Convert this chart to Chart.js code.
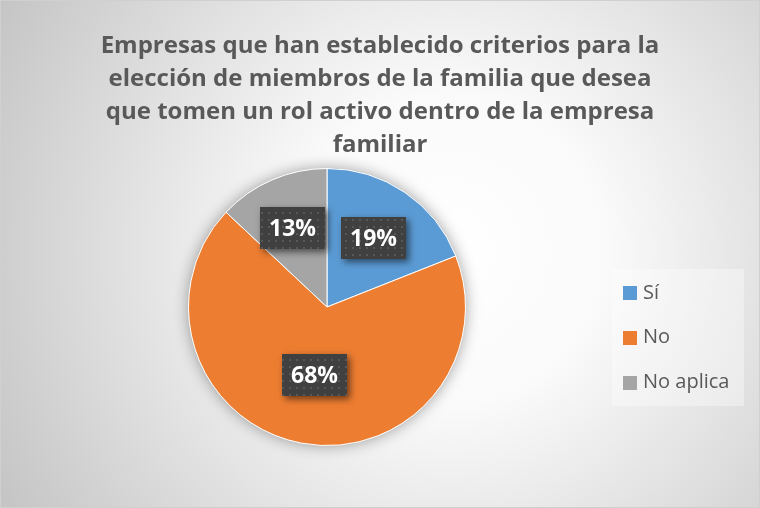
<!DOCTYPE html>
<html lang="es">
<head>
<meta charset="utf-8">
<title>Criterios de elección de familiares</title>
<script src="https://cdn.jsdelivr.net/npm/chart.js@4.4.1/dist/chart.umd.min.js"></script>
<style>
  html, body { margin: 0; padding: 0; background: #ffffff; }
  #contenedor { width: 760px; height: 508px; }
</style>
</head>
<body>
<div id="contenedor"><canvas id="grafico" width="760" height="508"></canvas></div>
<script>
const titulo = [
  "Empresas que han establecido criterios para la",
  "elección de miembros de la familia que desea",
  "que tomen un rol activo dentro de la empresa",
  "familiar"
];
const categorias = ["Sí", "No", "No aplica"];
const porcentajes = [19, 68, 13];
const colores = ["#5B9BD5", "#ED7D31", "#A5A5A5"];

const FUENTE = "'Open Sans'";
Chart.defaults.font.family = FUENTE;

// fondo con degradado radial y borde fino
const fondo = {
  id: "fondo",
  beforeDraw(chart) {
    const { ctx, width, height } = chart;
    const g = ctx.createRadialGradient(450, 250, 0, 450, 250, 520);
    g.addColorStop(0, "#ffffff");
    g.addColorStop(0.3, "#fafafa");
    g.addColorStop(1, "#c4c4c4");
    ctx.save();
    ctx.fillStyle = g;
    ctx.fillRect(0, 0, width, height);
    ctx.strokeStyle = "#d0d0d0";
    ctx.lineWidth = 1;
    ctx.strokeRect(0.5, 0.5, width - 1, height - 1);
    ctx.restore();
  }
};

// sombra suave detrás del pastel
const sombraPastel = {
  id: "sombraPastel",
  beforeDatasetsDraw(chart) {
    const { ctx } = chart;
    const arco = chart.getDatasetMeta(0).data[0];
    if (!arco) return;
    const { x, y, outerRadius } = arco.getProps(["x", "y", "outerRadius"], true);
    ctx.save();
    ctx.shadowColor = "rgba(0,0,0,0.38)";
    ctx.shadowBlur = 15;
    ctx.fillStyle = "#ffffff";
    ctx.beginPath();
    ctx.arc(x, y, outerRadius, 0, Math.PI * 2);
    ctx.fill();
    ctx.restore();
  }
};

function crearTrama() {
  const c = document.createElement("canvas");
  c.width = 7;
  c.height = 7;
  const t = c.getContext("2d");
  t.fillStyle = "rgba(255,255,255,0.12)";
  t.fillRect(2, 2, 2, 2);
  return c;
}

// etiquetas de porcentaje en cajas oscuras
const etiquetas = {
  id: "etiquetas",
  afterDatasetsDraw(chart, args, opts) {
    const { ctx } = chart;
    const meta = chart.getDatasetMeta(0);
    const valores = chart.data.datasets[0].data;
    const trama = ctx.createPattern(crearTrama(), "repeat");

    ctx.save();
    ctx.font = "bold 23px " + FUENTE;
    meta.data.forEach((arco, i) => {
      const { x, y, startAngle, endAngle, outerRadius } =
        arco.getProps(["x", "y", "startAngle", "endAngle", "outerRadius"], true);
      const medio = (startAngle + endAngle) / 2;
      const r = outerRadius * opts.distancia[i];
      const cx = x + Math.cos(medio) * r;
      const cy = y + Math.sin(medio) * r;
      const texto = valores[i] + "%";
      const w = Math.round(ctx.measureText(texto).width + 18);
      const h = 42;
      const bx = Math.round(cx - w / 2);
      const by = Math.round(cy - h / 2);

      ctx.save();
      ctx.shadowColor = "rgba(0,0,0,0.55)";
      ctx.shadowBlur = 7;
      ctx.shadowOffsetX = 3;
      ctx.shadowOffsetY = 3;
      ctx.fillStyle = "#404040";
      ctx.fillRect(bx, by, w, h);
      ctx.restore();

      ctx.fillStyle = trama;
      ctx.fillRect(bx, by, w, h);

      ctx.fillStyle = "#ffffff";
      ctx.textAlign = "center";
      ctx.textBaseline = "middle";
      ctx.fillText(texto, bx + w / 2, by + h / 2 + 1);
    });
    ctx.restore();
  }
};

function dibujarLeyenda(chart, caja) {
  const { ctx, chartArea } = chart;
  const ds = chart.data.datasets[0];
  const cx0 = caja.left - 42;
  const cw = caja.width + 26;
  const cy0 = Math.round((chartArea.top + chartArea.bottom) / 2) - 38;
  const ch = 137;

  ctx.save();
  ctx.fillStyle = "rgba(255,255,255,0.35)";
  ctx.fillRect(cx0, cy0, cw, ch);

  ctx.font = "20px " + FUENTE;
  ctx.textBaseline = "middle";
  ctx.textAlign = "left";
  chart.data.labels.forEach((etq, i) => {
    const yc = cy0 + 24 + i * 44.75;
    ctx.fillStyle = ds.backgroundColor[i];
    ctx.fillRect(cx0 + 11, Math.round(yc - 7), 14, 14);
    ctx.fillStyle = "#595959";
    ctx.fillText(etq, cx0 + 31, yc);
  });
  ctx.restore();
}

// leyenda propia que ocupa una franja a la derecha del área del gráfico
const leyenda = {
  id: "leyenda",
  beforeInit(chart, args, opts) {
    const caja = {
      position: "right",
      weight: 0,
      fullSize: false,
      options: { stackWeight: 1 },
      left: 0, top: 0, right: 0, bottom: 0, width: 0, height: 0,
      isHorizontal() { return false; },
      update(maxWidth, maxHeight) {
        this.width = opts.ancho;
        this.height = maxHeight;
      },
      draw() { dibujarLeyenda(chart, this); }
    };
    Chart.layouts.addBox(chart, caja);
  }
};

new Chart(document.getElementById("grafico"), {
  type: "pie",
  data: {
    labels: categorias,
    datasets: [
      {
        data: porcentajes,
        backgroundColor: colores,
        borderColor: "#ffffff",
        borderWidth: 1
      }
    ]
  },
  options: {
    responsive: false,
    devicePixelRatio: 1,
    animation: false,
    events: [],
    layout: {
      padding: { top: 0, right: 0, bottom: 62, left: 0 }
    },
    plugins: {
      legend: { display: false },
      tooltip: { enabled: false },
      title: {
        display: true,
        text: titulo,
        color: "#595959",
        font: { family: FUENTE, size: 24, weight: "bold", lineHeight: 33 / 24 },
        padding: { top: 30, bottom: 6 }
      },
      etiquetas: { distancia: [0.6, 0.5, 0.62] },
      leyenda: { ancho: 106 }
    }
  },
  plugins: [fondo, sombraPastel, etiquetas, leyenda]
});
</script>
</body>
</html>
